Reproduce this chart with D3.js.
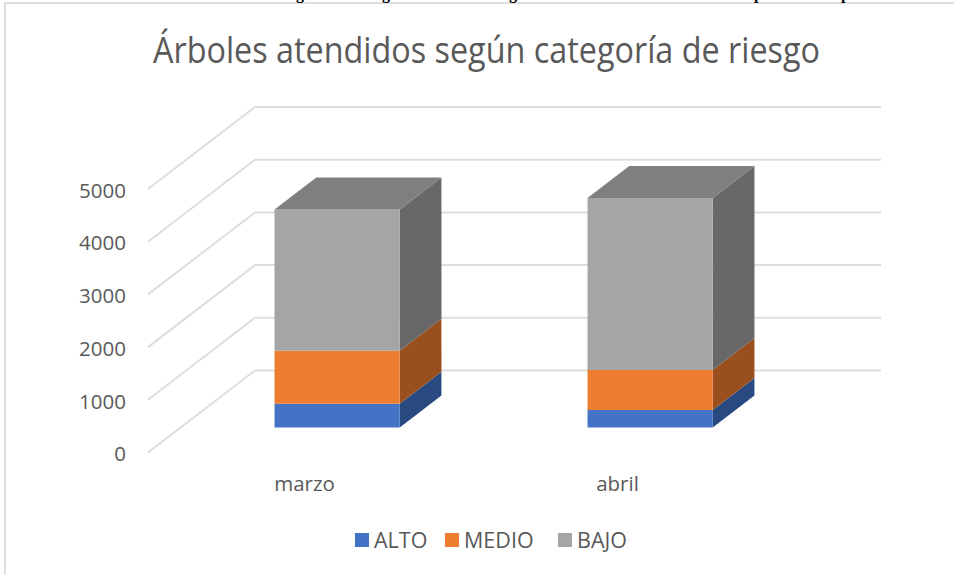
<!DOCTYPE html>
<html>
<head>
<meta charset="utf-8">
<script src="https://cdn.jsdelivr.net/npm/d3@7"></script>
<style>
  html, body { margin: 0; padding: 0; background: #fff; overflow: hidden; }
  svg { display: block; font-family: "Open Sans", sans-serif; }
</style>
</head>
<body>
<svg id="chart" width="954" height="575"></svg>
<script>
const categories = ['marzo', 'abril'];
const seriesNames = ['ALTO', 'MEDIO', 'BAJO'];
const alto  = [450, 330];
const medio = [1005, 760];
const bajo  = [2680, 3265];
const yTicks = [0, 1000, 2000, 3000, 4000, 5000];

const frontColors = { ALTO: '#4472C4', MEDIO: '#ED7D31', BAJO: '#A5A5A5' };
const sideColors  = { ALTO: '#294A80', MEDIO: '#9A501E', BAJO: '#686868' };
const topColor = '#7F7F7F';
const textColor = '#595959';
const gridColor = '#DEDEDE';

const svg = d3.select('#chart');

// page border and the clipped caption line above the chart
svg.append('path')
  .attr('d', 'M5,575V3H954')
  .attr('fill', 'none')
  .attr('stroke', gridColor)
  .attr('stroke-width', 2);

const captionBits = [['g', 296], ['g', 382], ['g', 509], ['p', 754], ['p', 841]];
svg.selectAll('.caption')
  .data(captionBits)
  .enter()
  .append('text')
  .attr('x', d => d[1])
  .attr('y', -1)
  .attr('font-family', '"Liberation Serif", serif')
  .attr('font-weight', 'bold')
  .attr('font-size', 16)
  .attr('fill', '#000')
  .text(d => d[0]);

svg.append('text')
  .attr('x', 153)
  .attr('y', 63)
  .attr('textLength', 667)
  .attr('lengthAdjust', 'spacingAndGlyphs')
  .attr('font-size', 36)
  .attr('fill', textColor)
  .text('Árboles atendidos según categoría de riesgo');

// oblique projection: depth runs 0 (front of floor) to 1 (back wall)
const depthX = 107;
const depthY = 82;
const x = d3.scaleBand()
  .domain(categories)
  .range([148, 774])
  .paddingInner(0.6)
  .paddingOuter(0.3);
const y = d3.scaleLinear()
  .domain([0, 5000])
  .range([452.5, 189]);

const px = (xv, depth) => xv + depth * depthX;
const py = (v, depth) => y(v) - depth * depthY;

// walls
svg.selectAll('.grid')
  .data(yTicks)
  .enter()
  .append('path')
  .attr('class', 'grid')
  .attr('fill', 'none')
  .attr('stroke', gridColor)
  .attr('stroke-width', 2)
  .attr('d', d => `M${px(x.range()[0], 0)},${py(d, 0)}L${px(x.range()[0], 1)},${py(d, 1)}H${px(x.range()[1], 1)}`);

// axes
const yAxis = svg.append('g')
  .attr('transform', 'translate(134, 0)')
  .call(d3.axisLeft(y).tickValues(yTicks).tickFormat(d3.format('d')).tickSize(0).tickPadding(8));
yAxis.select('.domain').remove();
yAxis.selectAll('text')
  .attr('font-family', '"Open Sans", sans-serif')
  .attr('font-size', 20.5)
  .attr('fill', textColor)
  .attr('dy', '0.4em');

const xAxis = svg.append('g')
  .attr('transform', 'translate(0, 476)')
  .call(d3.axisBottom(x).tickSize(0).tickPadding(0));
xAxis.select('.domain').remove();
xAxis.selectAll('text')
  .attr('font-family', '"Open Sans", sans-serif')
  .attr('font-size', 20.5)
  .attr('fill', textColor);

// stacked boxes
const table = categories.map((c, i) => ({ category: c, ALTO: alto[i], MEDIO: medio[i], BAJO: bajo[i] }));
const stacked = d3.stack().keys(seriesNames)(table);
const frontDepth = 0.305;
const backDepth = 0.695;
const poly = d3.line();

stacked.forEach(layer => {
  const g = svg.append('g');
  layer.forEach(d => {
    const x0 = x(d.data.category);
    const x1 = x0 + x.bandwidth();
    g.append('path')
      .attr('fill', sideColors[layer.key])
      .attr('d', poly([
        [px(x1, frontDepth), py(d[0], frontDepth)],
        [px(x1, backDepth), py(d[0], backDepth)],
        [px(x1, backDepth), py(d[1], backDepth)],
        [px(x1, frontDepth), py(d[1], frontDepth)]
      ]) + 'Z');
    g.append('path')
      .attr('fill', frontColors[layer.key])
      .attr('d', poly([
        [px(x0, frontDepth), py(d[0], frontDepth)],
        [px(x1, frontDepth), py(d[0], frontDepth)],
        [px(x1, frontDepth), py(d[1], frontDepth)],
        [px(x0, frontDepth), py(d[1], frontDepth)]
      ]) + 'Z');
    if (layer.key === 'BAJO') {
      g.append('path')
        .attr('fill', topColor)
        .attr('d', poly([
          [px(x0, frontDepth), py(d[1], frontDepth)],
          [px(x1, frontDepth), py(d[1], frontDepth)],
          [px(x1, backDepth), py(d[1], backDepth)],
          [px(x0, backDepth), py(d[1], backDepth)]
        ]) + 'Z');
    }
  });
});

// legend
const legendX = { ALTO: 355, MEDIO: 445, BAJO: 558 };
const legend = svg.selectAll('.legend')
  .data(seriesNames)
  .enter()
  .append('g')
  .attr('transform', d => `translate(${legendX[d]}, 533)`);
legend.append('rect')
  .attr('width', 14)
  .attr('height', 14)
  .attr('fill', d => frontColors[d]);
legend.append('text')
  .attr('x', 19)
  .attr('y', 15)
  .attr('font-size', 21.5)
  .attr('fill', textColor)
  .text(d => d);
</script>
</body>
</html>
